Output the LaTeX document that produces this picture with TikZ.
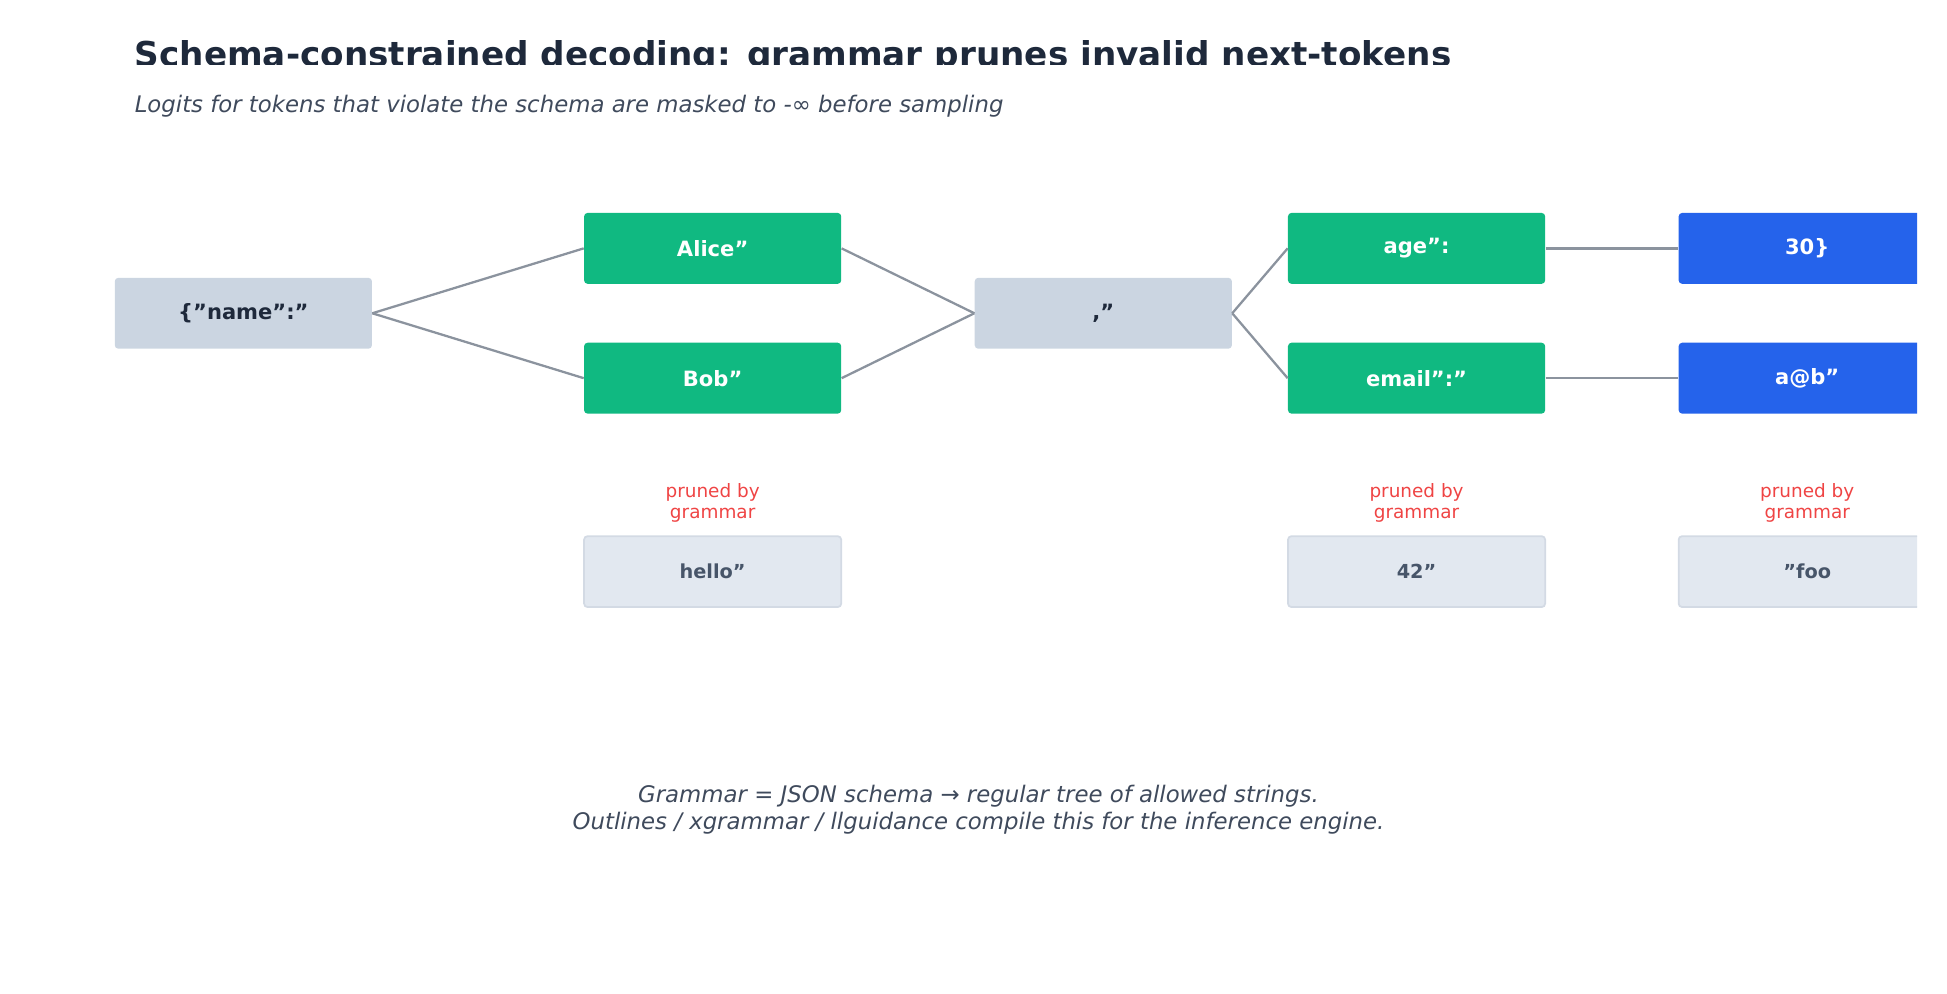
\documentclass[tikz,border=0pt]{standalone}
\usepackage{fontspec}
\setmainfont{DejaVu Sans}
\definecolor{titlecol}{HTML}{1E293B}
\definecolor{subcol}{HTML}{3F4A5C}
\definecolor{rootfill}{HTML}{CBD5E1}
\definecolor{okfill}{HTML}{10B981}
\definecolor{endfill}{HTML}{2563EB}
\definecolor{cutfill}{HTML}{E2E8F0}
\definecolor{cutline}{HTML}{D3DAE4}
\definecolor{cuttext}{HTML}{475569}
\definecolor{prunecol}{HTML}{EF4444}
\definecolor{edgecol}{HTML}{8B939E}
\tikzset{
  tok/.style={minimum width=5.15cm, minimum height=1.42cm, rounded corners=2pt,
    font=\fontsize{12}{14}\selectfont\bfseries, inner sep=0pt},
  root/.style={tok, fill=rootfill, text=titlecol},
  keep/.style={tok, fill=okfill, text=white},
  leaf/.style={tok, fill=endfill, text=white},
  cut/.style={tok, fill=cutfill, draw=cutline, line width=1pt, text=cuttext,
    font=\fontsize{11}{13}\selectfont\bfseries},
  note/.style={text=prunecol, align=center, font=\fontsize{10.5}{12}\selectfont},
  link/.style={edgecol, line width=1.3pt}
}
\begin{document}
\begin{tikzpicture}[x=0.025cm, y=-0.025cm]
    \useasboundingbox (0,0) rectangle (1560,796);
    % Title
    \begin{scope}
      \clip (0,0) rectangle (1560,52);
      \node[anchor=base west, text=titlecol, font=\fontsize{19.5}{22}\selectfont\bfseries] (title) at (103,53)
        {Schema-constrained decoding: grammar prunes invalid next-tokens};
    \end{scope}
    \node[anchor=base west, text=subcol, font=\fontsize{13}{15}\selectfont\itshape] (sub) at (103,90)
      {Logits for tokens that violate the schema are masked to -∞ before sampling};

    % Tokens
    \node[root] (name) at (195,251) {\{"name":"};
    \node[keep] (alice) at (571,199) {Alice"};
    \node[keep] (bob) at (571,303) {Bob"};
    \node[root] (comma) at (884,251) {,"};
    \node[keep] (age) at (1135,199) {age":};
    \node[keep] (email) at (1135,303) {email":"};
    \begin{scope}
      \clip (0,0) rectangle (1536,796);
      \node[leaf] (thirty) at (1448,199) {30\}};
      \node[leaf] (mail) at (1448,303) {a@b"};
      \node[cut] (foo) at (1448,458) {"foo};
    \end{scope}

    % Pruned tokens
    \node[note] (p1) at (571,403) {pruned by\\grammar};
    \node[note] (p2) at (1135,403) {pruned by\\grammar};
    \node[note] (p3) at (1448,403) {pruned by\\grammar};
    \node[cut] (hello) at (571,458) {hello"};
    \node[cut] (forty) at (1135,458) {42"};

    % Edges
    \draw[link] (name.east) -- (alice.west); \draw[link] (name.east) -- (bob.west);
    \draw[link] (alice.east) -- (comma.west); \draw[link] (bob.east) -- (comma.west);
    \draw[link] (comma.east) -- (age.west); \draw[link] (comma.east) -- (email.west);
    \draw[link] (age.east) -- (thirty.west); \draw[link] (email.east) -- (mail.west);

    % Footer
    \node[text=subcol, align=center, font=\fontsize{13}{15.5}\selectfont\itshape] (foot) at (784,649)
      {Grammar = JSON schema → regular tree of allowed strings.\\Outlines / xgrammar / llguidance compile this for the inference engine.};
\end{tikzpicture}
\end{document}
